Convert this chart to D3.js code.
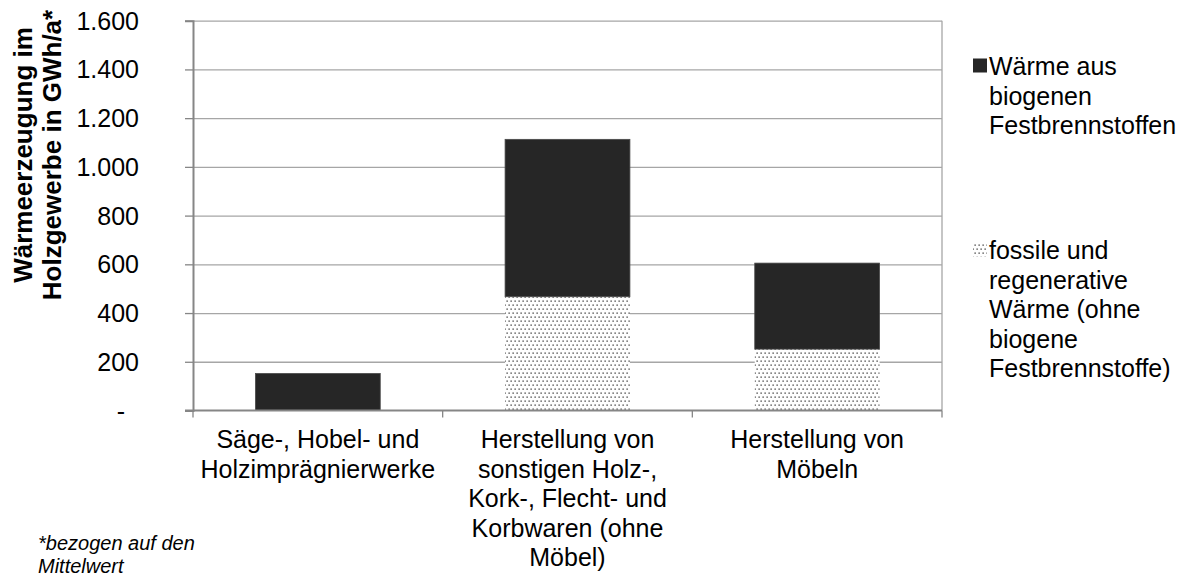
<!DOCTYPE html>
<html>
<head>
<meta charset="utf-8">
<script src="https://cdn.jsdelivr.net/npm/d3@7"></script>
<style>
  html, body { margin: 0; padding: 0; background: #fff; }
  svg { display: block; font-family: "Liberation Sans", Arial, sans-serif; }
</style>
</head>
<body>
<svg id="chart" width="1195" height="577"></svg>
<script>
// Heat generation in the wood industry, GWh/a (mean values)
const categories = [
  ["Säge-, Hobel- und", "Holzimprägnierwerke"],
  ["Herstellung von", "sonstigen Holz-,", "Kork-, Flecht- und", "Korbwaren (ohne", "Möbel)"],
  ["Herstellung von", "Möbeln"]
];
const fossilValues = [0, 467, 252];     // fossile und regenerative Wärme
const biogenValues = [152, 646, 353];   // Wärme aus biogenen Festbrennstoffen
const yTickValues = [0, 200, 400, 600, 800, 1000, 1200, 1400, 1600];
const legendEntries = [
  { key: "biogen", lines: ["Wärme aus", "biogenen", "Festbrennstoffen"] },
  { key: "fossil", lines: ["fossile und", "regenerative", "Wärme (ohne", "biogene", "Festbrennstoffe)"] }
];
const yTitleLines = ["Wärmeerzeugung im", "Holzgewerbe in GWh/a*"];
const footnoteLines = ["*bezogen auf den", "Mittelwert"];

const svg = d3.select("#chart");
svg.append("rect").attr("width", 1195).attr("height", 577).attr("fill", "#fff");

const plot = { left: 193, right: 942, top: 20.7, bottom: 410.5 };
const FS = 25; // body text size

// dotted fill for the fossil/regenerative share
const defs = svg.append("defs");
const pat = defs.append("pattern")
  .attr("id", "dots").attr("patternUnits", "userSpaceOnUse")
  .attr("width", 4).attr("height", 8);
pat.append("rect").attr("width", 4).attr("height", 8).attr("fill", "#fff");
pat.append("rect").attr("x", 0.4).attr("y", 0.4).attr("width", 1.5).attr("height", 1.5).attr("fill", "#6a6a6a");
pat.append("rect").attr("x", 2.4).attr("y", 4.4).attr("width", 1.5).attr("height", 1.5).attr("fill", "#6a6a6a");

const x = d3.scaleBand()
  .domain(d3.range(categories.length))
  .range([plot.left, plot.right])
  .paddingInner(0.5).paddingOuter(0.25);
const y = d3.scaleLinear().domain([0, 1600]).range([plot.bottom, plot.top]);

const fmt = d => d === 0 ? "-" : d3.format(",")(d).replace(/,/g, ".");

// horizontal gridlines
const grid = svg.append("g")
  .attr("transform", `translate(${plot.left},0)`)
  .call(d3.axisLeft(y).tickValues(yTickValues.slice(1)).tickSize(-(plot.right - plot.left)).tickFormat(""));
grid.select(".domain").remove();
grid.selectAll("line").attr("stroke", "#a6a6a6").attr("stroke-width", 1.3);

// right border of the plot area
svg.append("line")
  .attr("x1", plot.right).attr("x2", plot.right)
  .attr("y1", plot.top).attr("y2", plot.bottom)
  .attr("stroke", "#a6a6a6").attr("stroke-width", 1.3);

// stacked bars
const stack = categories.map((c, i) => ({ i, fossil: fossilValues[i], biogen: biogenValues[i] }));
const bars = svg.append("g");
bars.selectAll("rect.fossil").data(stack).join("rect")
  .attr("class", "fossil")
  .attr("x", d => x(d.i)).attr("width", x.bandwidth())
  .attr("y", d => y(d.fossil)).attr("height", d => y(0) - y(d.fossil))
  .attr("fill", "url(#dots)");
bars.selectAll("rect.biogen").data(stack).join("rect")
  .attr("class", "biogen")
  .attr("x", d => x(d.i)).attr("width", x.bandwidth())
  .attr("y", d => y(d.fossil + d.biogen)).attr("height", d => y(d.fossil) - y(d.fossil + d.biogen))
  .attr("fill", "#262626").attr("stroke", "#4a4a4a").attr("stroke-width", 0.8);

// y axis (accounting style: zero shown as a dash set in from the right)
const yAxis = svg.append("g")
  .attr("transform", `translate(${plot.left},0)`)
  .call(d3.axisLeft(y).tickValues(yTickValues).tickSize(8).tickPadding(46).tickFormat(fmt));
yAxis.select(".domain").attr("stroke", "#868686").attr("stroke-width", 2);
yAxis.selectAll(".tick line").attr("stroke", "#868686").attr("stroke-width", 1.3);
yAxis.selectAll(".tick text")
  .attr("font-family", "Liberation Sans, Arial, sans-serif")
  .attr("font-size", FS).attr("fill", "#000").attr("dy", "0.34em")
  .attr("dx", d => d === 0 ? -14 : 0);

// x axis with category boundary ticks
const xAxis = svg.append("g");
xAxis.append("line")
  .attr("x1", plot.left - 8).attr("x2", plot.right)
  .attr("y1", plot.bottom).attr("y2", plot.bottom)
  .attr("stroke", "#868686").attr("stroke-width", 2);
const bounds = d3.range(categories.length + 1).map(k => plot.left + k * x.step());
xAxis.selectAll("line.b").data(bounds).join("line")
  .attr("class", "b")
  .attr("x1", d => d).attr("x2", d => d)
  .attr("y1", plot.bottom).attr("y2", plot.bottom + 7)
  .attr("stroke", "#868686").attr("stroke-width", 1.3);

// category labels
const catG = svg.append("g").attr("font-size", FS).attr("fill", "#000").attr("text-anchor", "middle");
categories.forEach((lines, i) => {
  const cx = x(i) + x.bandwidth() / 2;
  const t = catG.append("text").attr("x", cx).attr("y", 448);
  lines.forEach((l, j) => t.append("tspan").attr("x", cx).attr("dy", j === 0 ? 0 : 29.5).text(l));
});

// y axis title
const yt = svg.append("text")
  .attr("transform", "translate(0,155) rotate(-90)")
  .attr("text-anchor", "middle").attr("font-weight", "bold").attr("font-size", 26).attr("fill", "#000");
yTitleLines.forEach((l, j) => yt.append("tspan").attr("x", 0).attr("y", j === 0 ? 32 : 61).text(l));

// legend
const legend = svg.append("g").attr("font-size", FS).attr("fill", "#000");
const legendTop = [75, 259];
legendEntries.forEach((e, k) => {
  const g = legend.append("g");
  g.append("rect")
    .attr("x", 973).attr("y", legendTop[k] - 16.5).attr("width", 14).attr("height", 14)
    .attr("fill", e.key === "biogen" ? "#262626" : "url(#dots)");
  const t = g.append("text").attr("x", 989).attr("y", legendTop[k]);
  e.lines.forEach((l, j) => t.append("tspan").attr("x", 989).attr("dy", j === 0 ? 0 : 29.6).text(l));
});

// footnote
const fn = svg.append("text").attr("font-size", 20).attr("font-style", "italic").attr("fill", "#000");
footnoteLines.forEach((l, j) => fn.append("tspan").attr("x", 38).attr("y", 550 + j * 23).text(l));
</script>
</body>
</html>
